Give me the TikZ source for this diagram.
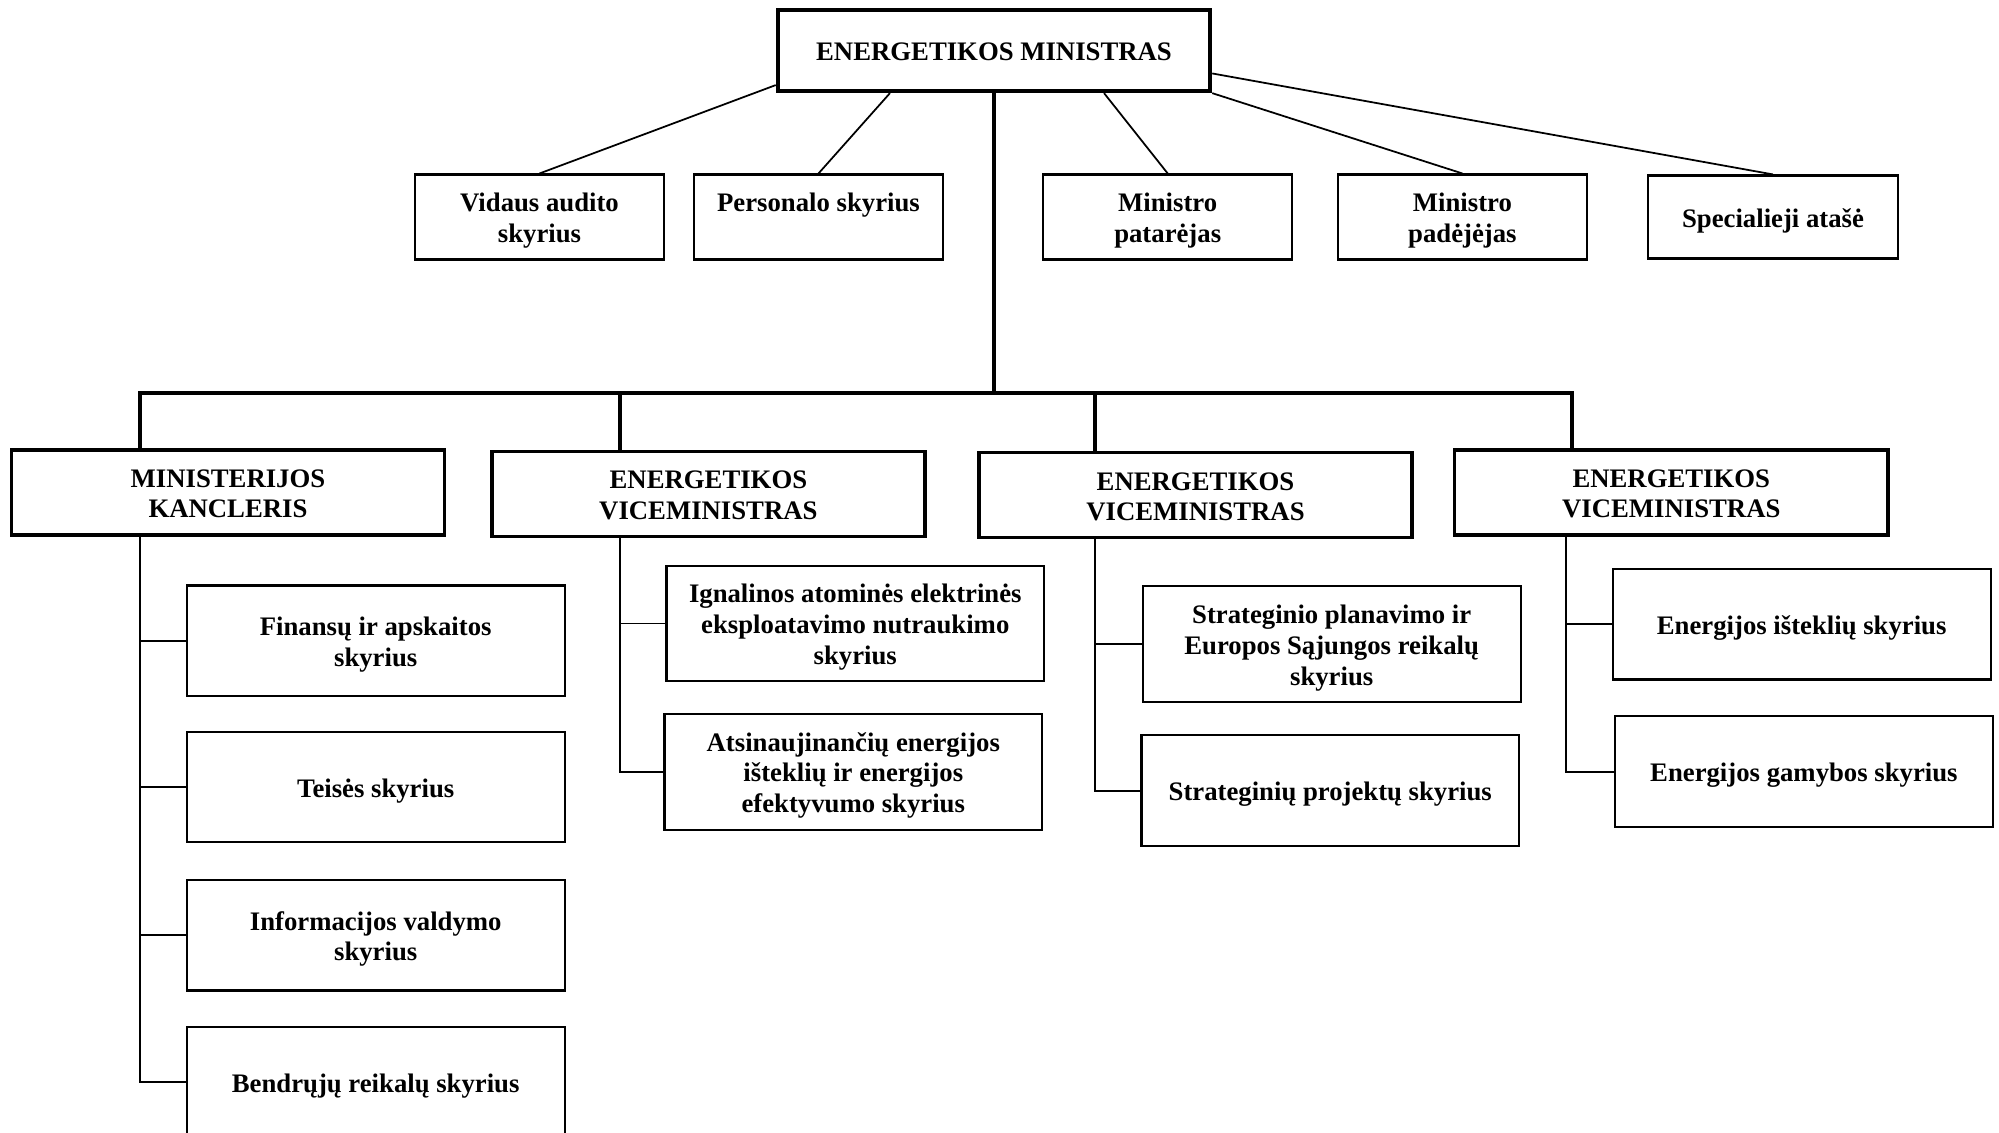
\documentclass[tikz,border=0pt]{standalone}
\usepackage{fontspec}
\setmainfont{Liberation Serif}
\newcommand{\boxtext}[1]{\raisebox{-1.15pt}[\height][\depth]{\begin{tabular}{@{}c@{}}#1\end{tabular}}}

\begin{document}
\begin{tikzpicture} [x=0.01cm, y=-0.01cm,
  every node/.style={font=\bfseries\fontsize{7.6}{8.75}\selectfont},
  head/.style={draw, line width=1.2pt, minimum width=4.32cm, minimum height=0.81cm},
  staff/.style={draw, line width=0.6pt, minimum width=2.49cm, minimum height=0.83cm},
  deputy/.style={draw, line width=1pt, minimum width=4.33cm, minimum height=0.84cm},
  unit/.style={draw, line width=0.6pt, minimum width=3.775cm, minimum height=1.105cm},
  thin/.style={line width=0.5pt},
  trunk/.style={line width=1.2pt}]
\useasboundingbox (0,0) rectangle (1999,1132);
\clip (0,0) rectangle (1999,1132);

\node[head] (min) at (994,50.5) {\boxtext{ENERGETIKOS MINISTRAS}};
\node[staff] (vidaus_auditas) at (539.5,217) {\boxtext{Vidaus audito\\skyrius}};
\node[staff] (personalas) at (818.5,217) {\boxtext{Personalo skyrius\\ \strut}};
\node[staff] (patarejas) at (1167.7,217) {\boxtext{Ministro\\patarėjas}};
\node[staff] (padejejas) at (1462.4,217) {\boxtext{Ministro\\padėjėjas}};
\node[staff] (atase) at (1773,217) {\boxtext{Specialieji atašė}};

\node[deputy] (kancleris) at (228,492.3) {\boxtext{MINISTERIJOS\\KANCLERIS}};
\node[deputy] (vice_1) at (708.4,493.8) {\boxtext{ENERGETIKOS\\VICEMINISTRAS}};
\node[deputy] (vice_2) at (1195.5,495.2) {\boxtext{ENERGETIKOS\\VICEMINISTRAS}};
\node[deputy] (vice_3) at (1671.3,492.3) {\boxtext{ENERGETIKOS\\VICEMINISTRAS}};

\node[unit] (finansai) at (375.7,640.8) {\boxtext{Finansų ir apskaitos\\skyrius}};
\node[unit] (teise) at (375.7,787.1) {\boxtext{Teisės skyrius}};
\node[unit] (informacija) at (375.7,935.2) {\boxtext{Informacijos valdymo\\skyrius}};
\node[unit] (bendrieji) at (375.7,1082.3) {\boxtext{Bendrųjų reikalų skyrius}};

\node[unit] (ignalina) at (855.3,623.5) {\boxtext{Ignalinos atominės elektrinės\\eksploatavimo nutraukimo\\skyrius}};
\node[unit] (atsinaujinantys) at (853.3,771.7) {\boxtext{Atsinaujinančių energijos\\išteklių ir energijos\\efektyvumo skyrius}};

\node[unit] (planavimas) at (1331.7,644.2) {\boxtext{Strateginio planavimo ir\\Europos Sąjungos reikalų\\skyrius}};
\node[unit] (projektai) at (1330.3,790.7) {\boxtext{Strateginių projektų skyrius}};

\node[unit] (istekliai) at (1801.7,624.2) {\boxtext{Energijos išteklių skyrius}};
\node[unit] (gamyba) at (1803.9,771.7) {\boxtext{Energijos gamybos skyrius}};

% ministro aparatas
\path[thin] (min.189) edge (vidaus_auditas.north);
\path[thin] ([xshift=-1.04cm]min.south) edge (personalas.north);
\path[thin] ([xshift=1.1cm]min.south) edge (patarejas.north);
\path[thin] (min.south east) edge (padejejas.north);
\path[thin] (min.354) edge (atase.north);

% pavaldumo linija
\coordinate (bar_l) at (140,393);
\coordinate (bar_r) at (1572,393);
\coordinate (drop_2) at (620,393);
\coordinate (drop_3) at (1095,393);
\draw[trunk] (min.south) -- (min.south |- bar_l);
\draw[trunk] (bar_l |- kancleris.north) -- (bar_l) -- (bar_r) -- (bar_r |- vice_3.north);
\draw[trunk] (drop_2) -- (drop_2 |- vice_1.north);
\draw[trunk] (drop_3) -- (drop_3 |- vice_2.north);

% skyriai
\coordinate (spine_4) at (1566,393);
\foreach \n in {finansai, teise, informacija, bendrieji}
  \draw[thin] (bar_l |- kancleris.south) |- (\n.west);
\foreach \n in {ignalina, atsinaujinantys}
  \draw[thin] (drop_2 |- vice_1.south) |- (\n.west);
\foreach \n in {planavimas, projektai}
  \draw[thin] (drop_3 |- vice_2.south) |- (\n.west);
\foreach \n in {istekliai, gamyba}
  \draw[thin] (spine_4 |- vice_3.south) |- (\n.west);

\end{tikzpicture}
\end{document}
